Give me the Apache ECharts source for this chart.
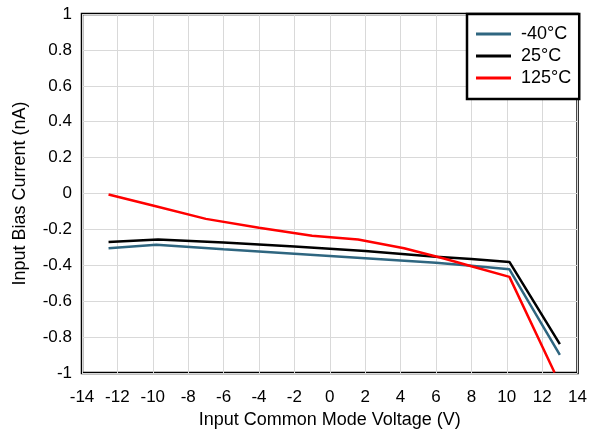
<!DOCTYPE html>
<html><head><meta charset="utf-8">
<script src="https://cdn.jsdelivr.net/npm/echarts@6/dist/echarts.min.js"></script>
<style>html,body{margin:0;padding:0;background:#fff}#c{width:590px;height:434px}</style>
</head><body><div id="c"></div>
<script>
var seriesNames = ['-40°C', '25°C', '125°C'];
var xM40 = [-12.5, -9.8, -6, -2, 2, 6, 8, 10.15, 13.0];
var yM40 = [-0.304, -0.285, -0.31, -0.335, -0.36, -0.385, -0.402, -0.422, -0.898];
var x25 = [-12.5, -9.7, -6, -2, 2, 6, 8, 10.15, 13.0];
var y25 = [-0.27, -0.256, -0.272, -0.295, -0.32, -0.352, -0.365, -0.381, -0.839];
var x125 = [-12.5, -10, -7, -4, -1, 1.6, 4.2, 6.5, 8, 10.15, 12.7];
var y125 = [-0.005, -0.067, -0.141, -0.19, -0.235, -0.256, -0.305, -0.363, -0.405, -0.464, -0.997];
var colors = ['#2f6680', '#000000', '#ff0000'];
function pairs(xs, ys){ return xs.map(function(x,i){ return [x, ys[i]]; }); }
var chart = echarts.init(document.getElementById('c'));
var font = 'Liberation Sans, Arial, sans-serif';
chart.setOption({
  animation: false,
  backgroundColor: '#fff',
  grid: {left: 82, right: 10, top: 14, bottom: 59, show: true, borderColor: '#000', borderWidth: 2.5, backgroundColor: 'transparent'},
  xAxis: {type: 'value', min: -14, max: 14, interval: 2,
    name: 'Input Common Mode Voltage (V)', nameLocation: 'middle', nameGap: 35,
    nameTextStyle: {fontFamily: font, fontSize: 18, color: '#000'},
    axisLine: {show: false}, axisTick: {show: false},
    axisLabel: {fontFamily: font, fontSize: 17, color: '#000', margin: 16},
    splitLine: {show: true, lineStyle: {color: '#d9d9d9', width: 1}}},
  yAxis: {type: 'value', min: -1, max: 1, interval: 0.2,
    name: 'Input Bias Current (nA)', nameLocation: 'middle', nameGap: 53,
    nameTextStyle: {fontFamily: font, fontSize: 18, color: '#000'},
    axisLine: {show: false}, axisTick: {show: false},
    axisLabel: {fontFamily: font, fontSize: 17, color: '#000', margin: 10,
      formatter: function(v){ return String(Math.round(v*10)/10); }},
    splitLine: {show: true, lineStyle: {color: '#d9d9d9', width: 1}}},
  legend: {show: true, orient: 'vertical', left: 467, top: 14,
    backgroundColor: '#fff', borderColor: '#000', borderWidth: 2.5,
    padding: [11, 8, 12, 9], itemGap: 4, itemWidth: 35, itemHeight: 3,
    icon: 'rect', align: 'left',
    textStyle: {fontFamily: font, fontSize: 18, lineHeight: 18, color: '#000', padding: [0, 0, 0, 5]},
    data: seriesNames},
  series: [
    {name: seriesNames[0], type: 'line', data: pairs(xM40, yM40), showSymbol: false, symbol: 'none', lineStyle: {color: colors[0], width: 2.5}, itemStyle: {color: colors[0]}},
    {name: seriesNames[1], type: 'line', data: pairs(x25, y25), showSymbol: false, symbol: 'none', lineStyle: {color: colors[1], width: 2.5}, itemStyle: {color: colors[1]}},
    {name: seriesNames[2], type: 'line', data: pairs(x125, y125), showSymbol: false, symbol: 'none', lineStyle: {color: colors[2], width: 2.5}, itemStyle: {color: colors[2]}}
  ]
});
</script></body></html>
